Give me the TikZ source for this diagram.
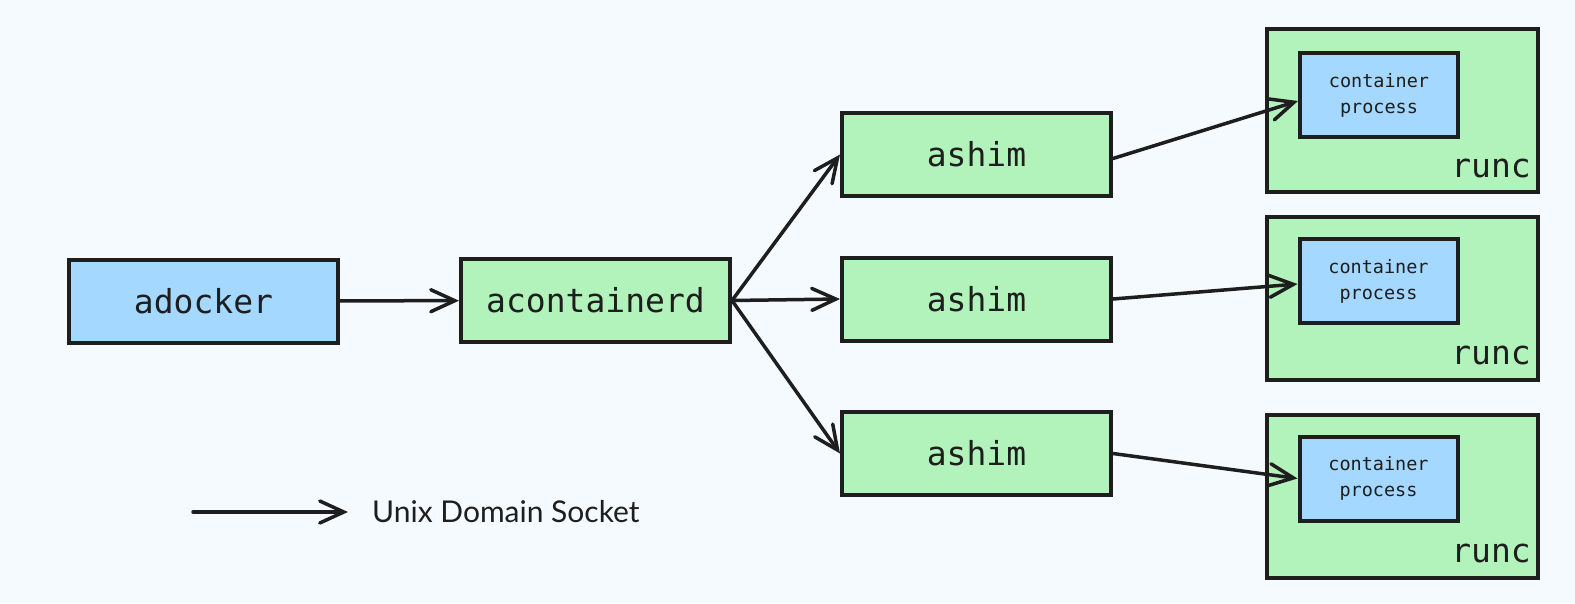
\documentclass[tikz,border=0pt]{standalone}
\usepackage{fontspec}
\setmonofont{DejaVu Sans Mono}
\setsansfont{Lato}
\usepackage{xcolor}
\usetikzlibrary{arrows.meta,positioning}
\definecolor{bgcol}{HTML}{F5FAFF}
\definecolor{inkcol}{HTML}{1E1E1E}
\definecolor{bluefill}{HTML}{A5D8FF}
\definecolor{greenfill}{HTML}{B2F2BB}

\begin{document}
\begin{tikzpicture}[x=1pt, y=-1pt]
\tikzstyle{box}=[draw = inkcol, line width = 4pt, rectangle, inner sep = 0 pt, font = \ttfamily\fontsize{33}{40}\selectfont, text = inkcol, minimum width = 269pt, minimum height = 83pt]
\tikzstyle{host}=[box, fill = greenfill, minimum width = 271pt, minimum height = 163pt]
\tikzstyle{proc}=[box, fill = bluefill, minimum width = 158pt, minimum height = 84pt, align = center, font = \ttfamily\fontsize{18.5}{26}\selectfont]
\tikzstyle{lbl}=[font = \ttfamily\fontsize{33}{40}\selectfont, text = inkcol, inner sep = 0 pt]
\tikzstyle{uds}=[draw = inkcol, line width = 3.5pt, line cap = round, -{Straight Barb[length = 24pt, width = 22pt, line cap = round]}]

\useasboundingbox[fill = bgcol] (0,0) rectangle (1575,603);

\node[box, fill = bluefill] (docker) at (203.5,301) {adocker};
\node[box, fill = greenfill] (containerd) at (595.5,300.5) {acontainerd};

\node[box, fill = greenfill] (shimA) at (976.5,154.5) {ashim};
\node[box, fill = greenfill] (shimB) at (976.5,299) {ashim};
\node[box, fill = greenfill] (shimC) at (976.5,453.5) {ashim};

\node[host] (runcA) at (1402.5,110.5) {};
\node[host] (runcB) at (1402.5,298) {};
\node[host] (runcC) at (1402.5,496) {};

\node[lbl, anchor = south east] at ([xshift = -9pt, yshift = 16pt]runcA.south east) {runc};
\node[lbl, anchor = south east] at ([xshift = -9pt, yshift = 16pt]runcB.south east) {runc};
\node[lbl, anchor = south east] at ([xshift = -9pt, yshift = 16pt]runcC.south east) {runc};

\node[proc] (procA) at (1379,95) {container\\process};
\node[proc] (procB) at (1378.5,281) {container\\process};
\node[proc] (procC) at (1378.5,478.5) {container\\process};

\draw[uds] (docker) -- (containerd);
\draw[uds] (containerd.east) -- (shimA.west);
\draw[uds] (containerd.east) -- (shimB.west);
\draw[uds] (containerd.east) -- (shimC.west);
\draw[uds] ([yshift = -4pt]shimA.east) -- ([yshift = -6pt]procA.west);
\draw[uds] (shimB.east) -- ([yshift = -3pt]procB.west);
\draw[uds] (shimC.east) -- (procC.west);

% legend
\coordinate (lgA) at (193,512);
\coordinate (lgB) at (348,512);
\draw[uds] (lgA) -- (lgB);
\node[anchor = west, inner sep = 0 pt, font = \sffamily\fontsize{30}{36}\selectfont, text = inkcol] (lgText) at (372,512) {Unix Domain Socket};
\end{tikzpicture}
\end{document}
